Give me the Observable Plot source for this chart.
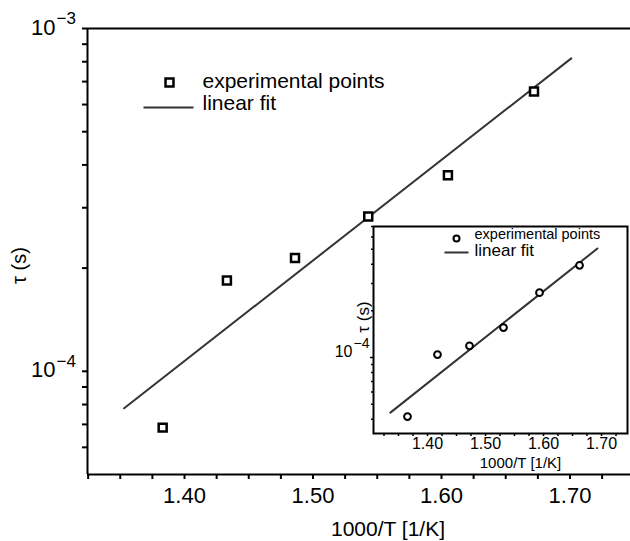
<!DOCTYPE html>
<html><head><meta charset="utf-8">
<script src="https://cdn.jsdelivr.net/npm/d3@7"></script>
<script src="https://cdn.jsdelivr.net/npm/@observablehq/plot@0.6"></script>
<style>
body{margin:0;background:#fff;}
#wrap{position:relative;width:630px;height:541px;font-family:"Liberation Sans",Arial,sans-serif;}
#inset{position:absolute;left:330px;top:215px;width:300px;height:260px;}
</style></head><body><div id="wrap"><div id="main"></div><div id="inset"></div></div>
<script>
// main data
const invT = [1.383, 1.433, 1.486, 1.543, 1.605, 1.672];
const tau = [6.85e-5, 1.84e-4, 2.14e-4, 2.83e-4, 3.73e-4, 6.55e-4];
const fitT = [1.353, 1.701];
const fitTau = [7.8e-5, 8.18e-4];
// inset data
const insetT = [1.3655, 1.4172, 1.4724, 1.5310, 1.5931, 1.6621];
const insetTau = [4.16e-5, 1.045e-4, 1.19e-4, 1.56e-4, 2.62e-4, 3.93e-4];
const insetFitT = [1.336, 1.693];
const insetFitTau = [4.41e-5, 5.05e-4];
// ticks
const xMajor = [1.40, 1.50, 1.60, 1.70];
const xMinor = [1.325, 1.35, 1.375, 1.425, 1.45, 1.475, 1.525, 1.55, 1.575, 1.625, 1.65, 1.675, 1.725];
const yMajor = [1e-4, 1e-3];
const yExpLabels = ["\u22124", "\u22123"];
const yMinor = [6e-5, 7e-5, 8e-5, 9e-5, 2e-4, 3e-4, 4e-4, 5e-4, 6e-4, 7e-4, 8e-4, 9e-4];
const insetYMajor = [1e-4];
const insetYExp = ["\u22124"];
const insetYMinor = [4e-5, 5e-5, 6e-5, 7e-5, 8e-5, 9e-5, 2e-4, 3e-4, 4e-4, 5e-4, 6e-4, 7e-4];
// domains
const xDomain = [1.3245, 1.7471];
const yDomain = [5e-5, 1e-3];
const insetXDomain = [1.3069, 1.7448];
const insetYDomain = [Math.pow(10, -4.4903), Math.pow(10, -3.1548)];

const FONT = '"Liberation Sans", Arial, sans-serif';
const points = invT.map((x, i) => ({x, y: tau[i]}));
const fit = fitT.map((x, i) => ({x, y: fitTau[i]}));
const ipoints = insetT.map((x, i) => ({x, y: insetTau[i]}));
const ifit = insetFitT.map((x, i) => ({x, y: insetFitTau[i]}));

const hline = (half) => ({draw(ctx) { ctx.moveTo(-half, 0); ctx.lineTo(half, 0); }});
const lbl = (s, o) => Plot.text([s], {text: d => d, fill: "black", lineAnchor: "middle", ...o});

const main = Plot.plot({
  width: 630, height: 541,
  marginLeft: 87, marginTop: 28, marginRight: 0, marginBottom: 67,
  style: {fontFamily: FONT, background: "white", overflow: "visible", maxWidth: "none"},
  x: {domain: xDomain, label: null},
  y: {type: "log", domain: yDomain, label: null},
  marks: [
    Plot.ruleY([yDomain[1]], {stroke: "black", strokeWidth: 2}),
    Plot.axisX(xMinor, {tickSize: 5, strokeWidth: 2, text: null, label: null}),
    Plot.axisX(xMajor, {tickSize: 5, strokeWidth: 2, tickPadding: 8, fontSize: 22, fill: "black",
      tickFormat: d => d.toFixed(2), label: null}),
    Plot.axisY(yMinor, {tickSize: 5, strokeWidth: 2, text: null, label: null}),
    Plot.axisY(yMajor, {tickSize: 5, strokeWidth: 2, text: null, label: null}),
    Plot.text(yMajor, {y: d => d, frameAnchor: "left", text: () => "10", textAnchor: "end", lineAnchor: "middle",
      dx: -32, dy: -1, fontSize: 22, fill: "black"}),
    Plot.text(yMajor, {y: d => d, frameAnchor: "left", text: (d, i) => yExpLabels[i], textAnchor: "start", lineAnchor: "middle",
      dx: -31, dy: -10, fontSize: 17, fill: "black"}),
    Plot.ruleX([xDomain[0]], {stroke: "black", strokeWidth: 2}),
    Plot.ruleY([yDomain[0]], {stroke: "black", strokeWidth: 2}),
    Plot.line(fit, {x: "x", y: "y", stroke: "#333", strokeWidth: 2}),
    Plot.dot(points, {x: "x", y: "y", symbol: "square", r: 4.5, stroke: "black", strokeWidth: 2.5, fill: "white"}),
    // legend
    Plot.dot([0], {frameAnchor: "top-left", dx: 82, dy: 54, symbol: "square", r: 4.5, stroke: "black", strokeWidth: 2.5, fill: "white"}),
    lbl("experimental points", {frameAnchor: "top-left", dx: 115, dy: 53, textAnchor: "start", fontSize: 21}),
    Plot.dot([0], {frameAnchor: "top-left", dx: 81, dy: 79, symbol: hline(25), stroke: "#333", strokeWidth: 2, fill: "none"}),
    lbl("linear fit", {frameAnchor: "top-left", dx: 115, dy: 75, textAnchor: "start", fontSize: 21}),
    // axis labels
    lbl("1000/T [1/K]", {frameAnchor: "bottom", dx: 29, dy: 55, textAnchor: "middle", fontSize: 21}),
    lbl("\u03c4 (s)", {frameAnchor: "left", dx: -68, dy: 14, rotate: -90, textAnchor: "middle", fontSize: 20})
  ]
});
document.getElementById("main").appendChild(main);

const inset = Plot.plot({
  width: 300, height: 260,
  marginLeft: 43, marginTop: 11, marginRight: 3, marginBottom: 42,
  style: {fontFamily: FONT, background: "transparent", overflow: "visible", maxWidth: "none"},
  x: {domain: insetXDomain, label: null},
  y: {type: "log", domain: insetYDomain, label: null},
  marks: [
    Plot.frame({fill: "white", stroke: "black", strokeWidth: 2}),
    Plot.axisX(xMinor, {tickSize: 3, strokeWidth: 1.5, text: null, label: null}),
    Plot.axisX(xMajor, {tickSize: 3, strokeWidth: 1.5, tickPadding: 1, fontSize: 16, fill: "black",
      tickFormat: d => d.toFixed(2), label: null}),
    Plot.axisY(insetYMinor, {tickSize: 2, strokeWidth: 1.5, text: null, label: null}),
    Plot.axisY(insetYMajor, {tickSize: 3, strokeWidth: 1.5, text: null, label: null}),
    Plot.text(insetYMajor, {y: d => d, frameAnchor: "left", text: () => "10", textAnchor: "end", lineAnchor: "middle",
      dx: -21, dy: -5.5, fontSize: 16, fill: "black"}),
    Plot.text(insetYMajor, {y: d => d, frameAnchor: "left", text: (d, i) => insetYExp[i], textAnchor: "start", lineAnchor: "middle",
      dx: -20, dy: -14, fontSize: 14, fill: "black"}),
    Plot.line(ifit, {x: "x", y: "y", stroke: "#333", strokeWidth: 2}),
    Plot.dot(ipoints, {x: "x", y: "y", r: 3.4, stroke: "black", strokeWidth: 2, fill: "white"}),
    // legend
    Plot.dot([0], {frameAnchor: "top-left", dx: 83, dy: 12, r: 3, stroke: "black", strokeWidth: 2, fill: "white"}),
    lbl("experimental points", {frameAnchor: "top-left", dx: 101, dy: 8, textAnchor: "start", fontSize: 14.5}),
    Plot.dot([0], {frameAnchor: "top-left", dx: 83, dy: 26, symbol: hline(12), stroke: "#333", strokeWidth: 2, fill: "none"}),
    lbl("linear fit", {frameAnchor: "top-left", dx: 101, dy: 24.5, textAnchor: "start", fontSize: 17}),
    // axis labels
    lbl("1000/T [1/K]", {frameAnchor: "bottom", dx: 20, dy: 30, textAnchor: "middle", fontSize: 15}),
    lbl("\u03c4 (s)", {frameAnchor: "left", dx: -10, dy: -13, rotate: -90, textAnchor: "middle", fontSize: 17})
  ]
});
document.getElementById("inset").appendChild(inset);
</script>
</body></html>
